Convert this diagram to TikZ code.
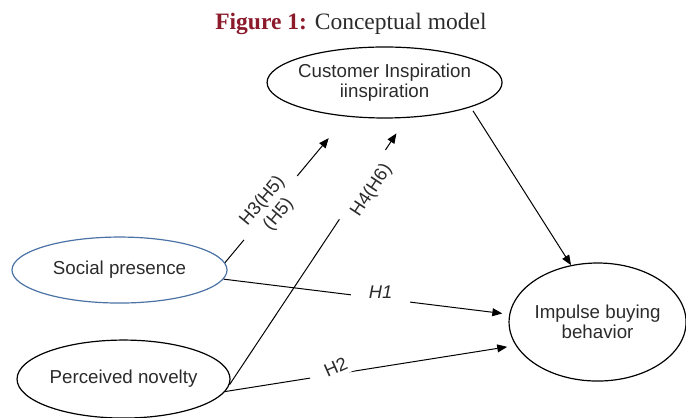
\documentclass[tikz,border=0pt]{standalone}
\usepackage{fontspec}
\setmainfont{Liberation Sans}
\newfontfamily\serifttl{Liberation Serif}
\usepackage{xcolor}
\usetikzlibrary{shapes.geometric,arrows.meta}
\definecolor{figred}{HTML}{8B1A2B}
\definecolor{spblue}{HTML}{4A72A5}
\definecolor{txtgray}{HTML}{2B2B2B}

\tikzset{
 construct/.style={ellipse,draw,line width=0.6pt,inner sep=0pt,align=center,
  text=txtgray,font=\fontsize{9.4}{10.2}\selectfont},
 hyp/.style={line width=0.5pt,-{Triangle[length=5pt,width=4pt]}},
 hyplabel/.style={fill=white,text=txtgray,font=\fontsize{9.2}{10.5}\selectfont,
  inner ysep=2pt,inner xsep=6pt}
}

\begin{document}
\begin{tikzpicture}
 \useasboundingbox (0,0) rectangle (12.10,7.356);
 \node[font=\serifttl\fontsize{11.8}{13}\selectfont,text=txtgray,anchor=base] (title) at (6.19,6.827)
  {\textcolor{figred}{\bfseries Figure 1:} Conceptual model};
 \node[construct,minimum width=4.145cm,minimum height=1.252cm,inner xsep=-3pt] (cust) at (6.783,5.901)
  {Customer Inspiration\\iinspiration};
 \node[construct,draw=spblue,minimum width=3.793cm,minimum height=1.164cm] (soc) at (2.108,2.593)
  {Social presence};
 \node[construct,minimum width=3.757cm,minimum height=1.376cm] (nov) at (2.179,0.670)
  {Perceived novelty};
 \node[construct,minimum width=3.122cm,minimum height=2.082cm,inner xsep=-1pt] (imp) at (10.540,1.676)
  {Impulse buying\\behavior};
 % hypotheses
 \draw[hyp,shorten >=14pt] (soc.4) -- node[hyplabel,pos=0.375,sloped,align=center] {H3(H5)\\(H5)} (cust.222);
 \draw[hyp,shorten >=9.3pt] (nov.357) -- node[hyplabel,pos=0.75,sloped,below=-1pt] {H4(H6)} (cust.302);
 \draw[hyp,shorten >=3.5pt] (soc.355) -- node[hyplabel,pos=0.55,inner xsep=9pt,yshift=3pt,font=\fontsize{9.2}{10.5}\selectfont\itshape] {H1} (imp.175);
 \draw[hyp,shorten >=4.3pt] (nov.353) -- node[hyplabel,pos=0.39,rotate=24,yshift=3.5pt,inner xsep=8pt] {H2} (imp.196);
 \draw[hyp,shorten <=2.2pt] (cust.344) -- (imp.115);
\end{tikzpicture}
\end{document}
